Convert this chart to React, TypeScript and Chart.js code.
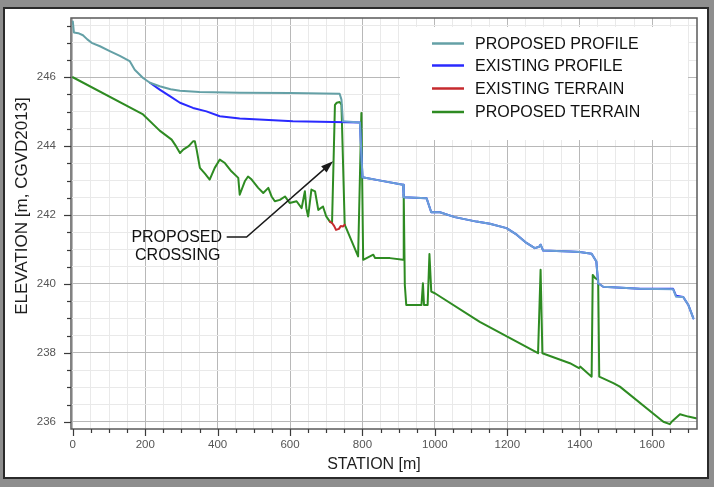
import React, { useEffect, useRef } from 'react';
import { Chart, registerables } from 'chart.js';

Chart.register(...registerables);

// ---------- DATA ----------
const proposedProfileStation = [0, 3, 15, 28, 40, 52, 75, 102, 130, 157, 171, 194, 213, 240, 270, 296, 350, 461, 600, 737, 742, 746, 793, 800, 850, 912, 914, 977, 990, 1014, 1055, 1115, 1152, 1198, 1226, 1253, 1276, 1288, 1292, 1299, 1373, 1400, 1433, 1446, 1451, 1465, 1566, 1658, 1666, 1686, 1700, 1714];
const proposedProfileElev = [247.62, 247.3, 247.28, 247.22, 247.1, 247.0, 246.9, 246.76, 246.62, 246.47, 246.22, 245.98, 245.84, 245.74, 245.65, 245.61, 245.57, 245.55, 245.54, 245.52, 245.35, 244.72, 244.69, 243.1, 243.0, 242.88, 242.52, 242.49, 242.08, 242.08, 241.94, 241.81, 241.75, 241.62, 241.43, 241.19, 241.04, 241.08, 241.14, 240.97, 240.94, 240.93, 240.88, 240.65, 240.02, 239.92, 239.86, 239.85, 239.63, 239.62, 239.39, 239.0];

const existingProfileStation = [213, 240, 268, 296, 332, 369, 406, 461, 608, 793, 800, 850, 912, 914, 977, 990, 1014, 1055, 1115, 1152, 1198, 1226, 1253, 1276, 1288, 1292, 1299, 1373, 1400, 1433, 1446, 1451, 1465, 1566, 1658, 1666, 1686, 1700, 1714];
const existingProfileElev = [245.84, 245.64, 245.45, 245.26, 245.11, 245.01, 244.87, 244.8, 244.72, 244.69, 243.1, 243.0, 242.88, 242.52, 242.49, 242.08, 242.08, 241.94, 241.81, 241.75, 241.62, 241.43, 241.19, 241.04, 241.08, 241.14, 240.97, 240.94, 240.93, 240.88, 240.65, 240.02, 239.92, 239.86, 239.86, 239.66, 239.62, 239.39, 239.0];

const existingTerrainStation = [710, 716, 722, 727, 735, 740, 746, 751];
const existingTerrainElev = [241.81, 241.77, 241.68, 241.57, 241.6, 241.68, 241.67, 241.72];

const proposedTerrainStation = [0, 194, 240, 273, 285, 296, 305, 320, 332, 337, 342, 351, 365, 378, 392, 406, 420, 438, 457, 461, 475, 484, 494, 512, 526, 540, 549, 558, 572, 586, 599, 618, 632, 641, 645, 650, 659, 669, 678, 691, 700, 710, 716, 724, 729, 737, 742, 751, 788, 797, 802, 830, 835, 876, 912, 914, 917, 921, 963, 967, 970, 980, 985, 990, 1000, 1124, 1285, 1292, 1297, 1373, 1398, 1402, 1433, 1436, 1443, 1451, 1454, 1493, 1511, 1631, 1649, 1654, 1677, 1700, 1721];
const proposedTerrainElev = [246.0, 244.92, 244.45, 244.19, 244.0, 243.8, 243.9, 244.0, 244.14, 244.14, 243.9, 243.37, 243.2, 243.03, 243.37, 243.61, 243.51, 243.27, 243.08, 242.59, 242.98, 243.12, 243.03, 242.79, 242.64, 242.79, 242.54, 242.4, 242.44, 242.54, 242.35, 242.4, 242.2, 242.69, 242.2, 241.96, 242.74, 242.69, 242.15, 242.25, 241.96, 241.81, 241.77, 245.2, 245.26, 245.28, 245.2, 241.72, 240.8, 244.96, 240.7, 240.85, 240.75, 240.75, 240.7, 242.6, 239.97, 239.39, 239.39, 240.02, 239.39, 239.39, 240.87, 239.78, 239.73, 238.9, 237.99, 240.41, 237.99, 237.7, 237.56, 237.6, 237.31, 240.26, 240.17, 240.12, 237.31, 237.12, 237.02, 236.0, 235.93, 236.0, 236.22, 236.15, 236.1];

const xMajorTicks = [0, 200, 400, 600, 800, 1000, 1200, 1400, 1600];
const yMajorTicks = [236, 238, 240, 242, 244, 246];
const xMinorStep = 50;
const yMinorStep = 0.5;

const seriesLabels = ['PROPOSED PROFILE', 'EXISTING PROFILE', 'EXISTING TERRAIN', 'PROPOSED TERRAIN'];
const annotationLines = ['PROPOSED', 'CROSSING'];
const xTitle = 'STATION [m]';
const yTitle = 'ELEVATION [m, CGVD2013]';

// ---------- STYLE ----------
const X_MIN = -5;
const X_MAX = 1724;
const Y_MIN = 235.79;
const Y_MAX = 247.72;
const COL_PROP_PROFILE = '#64a0a6';
const COL_PROP_PROFILE_RIGHT = '#6a9fd6';
const COL_EX_PROFILE = '#2a2aff';
const COL_EX_TERRAIN = '#c62a2e';
const COL_PROP_TERRAIN = '#2e8b22';
const FONT = "'Liberation Sans', Arial, sans-serif";

const toPts = (xs: number[], ys: number[]) => xs.map((x, i) => ({ x, y: ys[i] }));

const isMultiple = (v: number, m: number) => Math.abs(v / m - Math.round(v / m)) < 1e-6;

const backgroundPlugin = {
  id: 'bgPanel',
  beforeDraw(chart: any) {
    const { ctx, width, height } = chart;
    ctx.save();
    ctx.fillStyle = '#8e8e8e';
    ctx.fillRect(0, 0, width, height);
    ctx.fillStyle = '#ffffff';
    ctx.fillRect(4, 8, 704, 470);
    ctx.strokeStyle = '#2a2a2a';
    ctx.lineWidth = 2;
    ctx.strokeRect(4, 8, 704, 470);
    ctx.restore();
  },
};

const legendBoxPlugin = {
  id: 'legendBox',
  beforeDatasetsDraw(chart: any) {
    const { ctx } = chart;
    ctx.save();
    ctx.fillStyle = '#ffffff';
    ctx.fillRect(400, 27, 288, 113);
    ctx.restore();
  },
};

const overlayPlugin = {
  id: 'overlay',
  afterDraw(chart: any) {
    const { ctx, chartArea } = chart;
    const xs = chart.scales.x;
    const ys = chart.scales.y;
    ctx.save();

    // frame
    ctx.strokeStyle = '#5a5a5a';
    ctx.lineWidth = 1.5;
    ctx.strokeRect(chartArea.left, chartArea.top, chartArea.right - chartArea.left, chartArea.bottom - chartArea.top);

    // ticks
    ctx.strokeStyle = '#3a3a3a';
    ctx.lineWidth = 1.2;
    xs.ticks.forEach((t: any) => {
      const px = Math.round(xs.getPixelForValue(t.value)) + 0.5;
      const len = isMultiple(t.value, 200) ? 7 : 4;
      ctx.beginPath();
      ctx.moveTo(px, chartArea.bottom);
      ctx.lineTo(px, chartArea.bottom + len);
      ctx.stroke();
    });
    ys.ticks.forEach((t: any) => {
      const py = Math.round(ys.getPixelForValue(t.value)) + 0.5;
      const len = isMultiple(t.value, 2) ? 7 : 4;
      ctx.beginPath();
      ctx.moveTo(chartArea.left, py);
      ctx.lineTo(chartArea.left - len, py);
      ctx.stroke();
    });

    // axis titles
    ctx.fillStyle = '#1e1e1e';
    ctx.textAlign = 'center';
    ctx.textBaseline = 'middle';
    ctx.font = `16px ${FONT}`;
    ctx.fillText(xTitle, 374, 465);
    ctx.save();
    ctx.translate(22.5, 206);
    ctx.rotate(-Math.PI / 2);
    ctx.font = `17px ${FONT}`;
    ctx.fillText(yTitle, 0, 0);
    ctx.restore();

    // legend
    const rows = [43.5, 65.5, 88.5, 112];
    const legendColors = [COL_PROP_PROFILE, COL_EX_PROFILE, COL_EX_TERRAIN, COL_PROP_TERRAIN];
    ctx.font = `16px ${FONT}`;
    ctx.textAlign = 'left';
    chart.data.datasets.forEach((ds: any, i: number) => {
      ctx.strokeStyle = legendColors[i];
      ctx.lineWidth = 2.5;
      ctx.beginPath();
      ctx.moveTo(432, rows[i]);
      ctx.lineTo(464, rows[i]);
      ctx.stroke();
      ctx.fillStyle = '#111';
      ctx.fillText(ds.label, 475, rows[i] + 1);
    });

    // annotation (positions in data units, converted by the scales)
    const tip = { x: xs.getPixelForValue(719), y: ys.getPixelForValue(243.56) };
    const elbow = { x: xs.getPixelForValue(480), y: ys.getPixelForValue(241.36) };
    const start = { x: xs.getPixelForValue(425), y: ys.getPixelForValue(241.36) };
    ctx.strokeStyle = '#1a1a1a';
    ctx.lineWidth = 1.5;
    ctx.beginPath();
    ctx.moveTo(start.x, start.y);
    ctx.lineTo(elbow.x, elbow.y);
    const ang = Math.atan2(tip.y - elbow.y, tip.x - elbow.x);
    const headLen = 13;
    const back = { x: tip.x - headLen * 0.8 * Math.cos(ang), y: tip.y - headLen * 0.8 * Math.sin(ang) };
    ctx.lineTo(back.x, back.y);
    ctx.stroke();
    ctx.fillStyle = '#1a1a1a';
    ctx.beginPath();
    ctx.moveTo(tip.x, tip.y);
    ctx.lineTo(tip.x - headLen * Math.cos(ang - 0.32), tip.y - headLen * Math.sin(ang - 0.32));
    ctx.lineTo(tip.x - headLen * Math.cos(ang + 0.32), tip.y - headLen * Math.sin(ang + 0.32));
    ctx.closePath();
    ctx.fill();

    ctx.fillStyle = '#111';
    ctx.textAlign = 'center';
    ctx.font = `16px ${FONT}`;
    const cx = xs.getPixelForValue(287);
    ctx.fillText(annotationLines[0], cx, ys.getPixelForValue(241.34));
    ctx.fillText(annotationLines[1], cx + 1, ys.getPixelForValue(240.82));

    ctx.restore();
  },
};

export default function App() {
  const ref = useRef<HTMLCanvasElement | null>(null);

  useEffect(() => {
    if (!ref.current) return;
    const xTickValues: number[] = [];
    for (let v = 0; v <= 1700; v += xMinorStep) xTickValues.push(v);
    const yTickValues: number[] = [];
    for (let v = 236; v <= 247.5 + 1e-9; v += yMinorStep) yTickValues.push(Math.round(v * 10) / 10);

    const baseLine = { pointRadius: 0, borderWidth: 2, tension: 0, borderJoinStyle: 'round', borderCapStyle: 'round', fill: false };

    const chart = new Chart(ref.current, {
      type: 'line',
      data: {
        datasets: [
          {
            ...baseLine,
            label: seriesLabels[0],
            data: toPts(proposedProfileStation, proposedProfileElev),
            borderColor: COL_PROP_PROFILE,
            segment: {
              borderColor: (c: any) => (c.p0.parsed.x >= 744 ? COL_PROP_PROFILE_RIGHT : COL_PROP_PROFILE),
            },
          },
          { ...baseLine, label: seriesLabels[1], data: toPts(existingProfileStation, existingProfileElev), borderColor: COL_EX_PROFILE },
          { ...baseLine, label: seriesLabels[2], data: toPts(existingTerrainStation, existingTerrainElev), borderColor: COL_EX_TERRAIN },
          { ...baseLine, label: seriesLabels[3], data: toPts(proposedTerrainStation, proposedTerrainElev), borderColor: COL_PROP_TERRAIN },
        ] as any,
      },
      options: {
        responsive: false,
        animation: false,
        devicePixelRatio: 1,
        layout: { padding: { left: 21, top: 18, right: 17, bottom: 8 } },
        plugins: { legend: { display: false }, tooltip: { enabled: false } },
        scales: {
          x: {
            type: 'linear',
            min: X_MIN,
            max: X_MAX,
            afterBuildTicks: (s: any) => {
              s.ticks = xTickValues.map((v) => ({ value: v }));
            },
            afterFit: (s: any) => {
              s.height = 50;
            },
            border: { display: false },
            grid: {
              color: (c: any) => (c.tick && isMultiple(c.tick.value, 200) ? '#b8b8b8' : '#e9e9e9'),
              lineWidth: 1,
              tickLength: 8,
              tickColor: 'rgba(0,0,0,0)',
            },
            ticks: {
              autoSkip: false,
              maxRotation: 0,
              padding: 1,
              color: '#555',
              font: { family: FONT, size: 11.5 },
              callback: (v: any) => (xMajorTicks.includes(Number(v)) ? String(v) : ''),
            },
          },
          y: {
            type: 'linear',
            min: Y_MIN,
            max: Y_MAX,
            afterBuildTicks: (s: any) => {
              s.ticks = yTickValues.map((v) => ({ value: v }));
            },
            afterFit: (s: any) => {
              s.width = 50;
            },
            border: { display: false },
            grid: {
              color: (c: any) => (c.tick && isMultiple(c.tick.value, 2) ? '#b8b8b8' : '#e9e9e9'),
              lineWidth: 1,
              tickLength: 8,
              tickColor: 'rgba(0,0,0,0)',
            },
            ticks: {
              autoSkip: false,
              padding: 7,
              color: '#555',
              font: { family: FONT, size: 11.5 },
              callback: (v: any) => (yMajorTicks.includes(Number(v)) ? String(v) : ''),
            },
          },
        },
      } as any,
      plugins: [backgroundPlugin, legendBoxPlugin, overlayPlugin],
    });
    return () => chart.destroy();
  }, []);

  return (
    <div style={{ position: 'fixed', left: 0, top: 0, width: 714, height: 487 }}>
      <canvas ref={ref} width={714} height={487} style={{ display: 'block', width: 714, height: 487 }} />
    </div>
  );
}
